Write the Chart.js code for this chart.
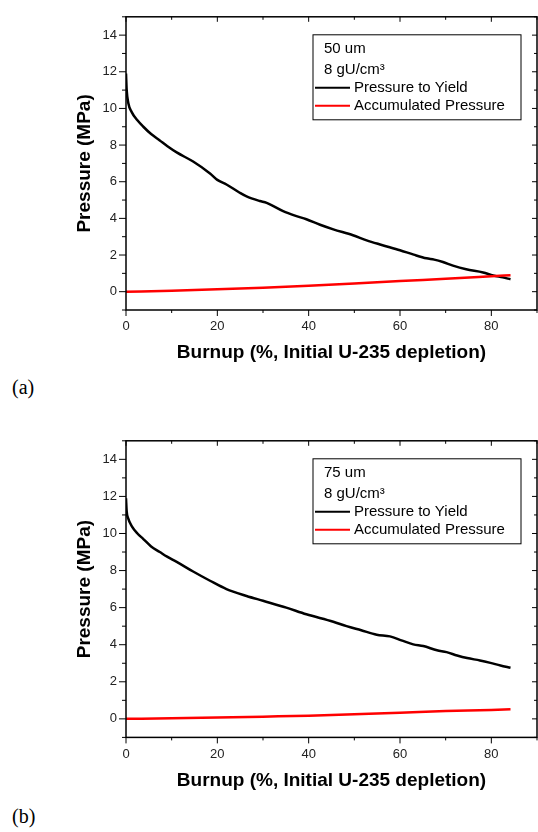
<!DOCTYPE html>
<html>
<head>
<meta charset="utf-8">
<script src="https://cdn.jsdelivr.net/npm/chart.js@4"></script>
<style>
    html, body { margin: 0; padding: 0; background: #fff; }
    body { width: 538px; height: 832px; position: relative; overflow: hidden; }
    .panel { position: absolute; left: 0; width: 538px; height: 370px; }
    .tag { position: absolute; left: 12px; font: 20px "Liberation Serif", "Times New Roman", serif; color: #000; line-height: 23px; }
</style>
</head>
<body>
<div class="panel" style="top:0"><canvas id="chart-a"></canvas></div>
<div class="tag" style="top:376px">(a)</div>
<div class="panel" style="top:424px"><canvas id="chart-b"></canvas></div>
<div class="tag" style="top:805px">(b)</div>

<script>
'use strict';

// ---- data ---------------------------------------------------------------
const X_TICKS = [0, 20, 40, 60, 80];
const Y_TICKS = [0, 2, 4, 6, 8, 10, 12, 14];
const X_LABEL = 'Burnup (%, Initial U-235 depletion)';
const Y_LABEL = 'Pressure (MPa)';
const SERIES_NAMES = ['Pressure to Yield', 'Accumulated Pressure'];

// (a) 50 um
const A_NOTE    = ['50 um', '8 gU/cm³'];
const A_YIELD_X = [0, 0.15, 0.5, 1.25, 2.5, 3.8, 5.5, 7.4, 9, 11.1, 14.7, 18.4, 20, 22, 24.9, 26.4, 29.3, 30.8, 34.4, 37, 39.5, 42.5, 45.4, 49.7, 52.7, 56, 60, 63, 65.8, 67.5, 69.4, 71.6, 74.5, 78.2, 80.4, 82.5, 84.2];
const A_YIELD_Y = [11.9, 11.0, 10.3, 9.8, 9.35, 9.0, 8.6, 8.25, 7.95, 7.6, 7.1, 6.45, 6.1, 5.85, 5.4, 5.2, 4.95, 4.85, 4.4, 4.15, 3.95, 3.65, 3.4, 3.08, 2.8, 2.55, 2.26, 2.02, 1.82, 1.75, 1.62, 1.42, 1.22, 1.05, 0.88, 0.78, 0.68];
const A_ACC_X   = [0, 10, 20, 30, 40, 50, 60, 70, 80, 84.2];
const A_ACC_Y   = [0, 0.05, 0.13, 0.22, 0.32, 0.44, 0.58, 0.7, 0.84, 0.9];

// (b) 75 um
const B_NOTE    = ['75 um', '8 gU/cm³'];
const B_YIELD_X = [0, 0.15, 0.5, 1.25, 2.5, 3.8, 5.5, 7.4, 9, 11.1, 14.7, 18.4, 22, 26.4, 30, 35.1, 39.5, 45.4, 48.3, 51.5, 54.9, 57.8, 60.5, 62.9, 65.1, 68.1, 70.2, 72.5, 74.7, 77.5, 79.8, 82, 84.2];
const B_YIELD_Y = [11.9, 11.2, 10.8, 10.4, 10.0, 9.7, 9.3, 9.0, 8.75, 8.47, 7.95, 7.45, 7.0, 6.63, 6.37, 6.0, 5.64, 5.24, 5.0, 4.78, 4.54, 4.45, 4.22, 4.02, 3.93, 3.7, 3.6, 3.42, 3.28, 3.15, 3.02, 2.88, 2.76];
const B_ACC_X   = [0, 10, 20, 30, 40, 50, 60, 70, 80, 84.2];
const B_ACC_Y   = [0, 0.03, 0.07, 0.12, 0.17, 0.25, 0.33, 0.42, 0.48, 0.52];

// ---- helpers ------------------------------------------------------------
const FONT = 'Arial, "Liberation Sans", sans-serif';
Chart.defaults.font.family = FONT;

const pts = (xs, ys) => xs.map((x, i) => ({ x, y: ys[i] }));

// box frame, inward/outward ticks and the boxed key
const frameAndKey = {
    id: 'frameAndKey',
    afterDraw(chart, args, opts) {
        const { ctx, chartArea: a, scales: { x, y } } = chart;
        const seg = (x1, y1, x2, y2) => { ctx.beginPath(); ctx.moveTo(x1, y1); ctx.lineTo(x2, y2); ctx.stroke(); };

        ctx.save();
        ctx.strokeStyle = '#000';
        ctx.lineWidth = 1;
        for (let v = x.min; v <= x.max; v += 10) {
            const px = x.getPixelForValue(v);
            const major = X_TICKS.includes(v);
            seg(px, a.bottom, px, a.bottom + (major ? 6 : 3));
            seg(px, a.top, px, a.top + (major ? 5 : 3));
        }
        for (let v = y.min; v <= y.max; v += 1) {
            const py = y.getPixelForValue(v);
            const major = Y_TICKS.includes(v);
            seg(a.left, py, a.left - (major ? 7 : 4), py);
            seg(a.right, py, a.right - (major ? 5 : 3), py);
        }
        ctx.lineWidth = 1.5;
        ctx.strokeRect(a.left, a.top, a.right - a.left, a.bottom - a.top);

        // key box
        const bx = a.left + 187, by = a.top + 18, bw = 208, bh = 85;
        ctx.fillStyle = '#fff';
        ctx.fillRect(bx, by, bw, bh);
        ctx.lineWidth = 1;
        ctx.strokeRect(bx, by, bw, bh);

        ctx.fillStyle = '#000';
        ctx.font = `15px ${FONT}`;
        ctx.textBaseline = 'middle';
        ctx.textAlign = 'left';
        ctx.fillText(opts.note[0], bx + 11, by + 14);
        ctx.fillText(opts.note[1], bx + 11, by + 35);

        const rows = [53, 71];
        chart.data.datasets.forEach(ds => {
            const ry = by + rows[ds.keyRow];
            ctx.strokeStyle = ds.borderColor;
            ctx.lineWidth = 2;
            seg(bx + 2, ry, bx + 37, ry);
            ctx.fillText(ds.label, bx + 41, ry);
        });
        ctx.restore();
    },
};

function buildChart(id, note, yieldX, yieldY, accX, accY, padBottom) {
    return new Chart(document.getElementById(id).getContext('2d'), {
        type: 'line',
        data: {
            datasets: [
                {
                    label: SERIES_NAMES[1],
                    data: pts(accX, accY),
                    borderColor: '#ff0000',
                    borderWidth: 2.5,
                    pointRadius: 0,
                    cubicInterpolationMode: 'monotone',
                    keyRow: 1,
                    order: 0,
                },
                {
                    label: SERIES_NAMES[0],
                    data: pts(yieldX, yieldY),
                    borderColor: '#000000',
                    borderWidth: 2.5,
                    pointRadius: 0,
                    cubicInterpolationMode: 'monotone',
                    keyRow: 0,
                    order: 1,
                },
            ],
        },
        options: {
            responsive: true,
            maintainAspectRatio: false,
            animation: false,
            layout: { padding: { left: 73.6, right: 1, top: 8, bottom: padBottom } },
            plugins: {
                legend: { display: false },
                tooltip: { enabled: false },
                frameAndKey: { note },
            },
            scales: {
                x: {
                    type: 'linear',
                    min: 0,
                    max: 90,
                    afterBuildTicks: s => { s.ticks = X_TICKS.map(v => ({ value: v })); },
                    afterFit: s => { s.height = 54.4; },
                    grid:   { display: false, drawTicks: false },
                    border: { display: false },
                    ticks:  { padding: 9, color: '#222', font: { size: 13 }, maxRotation: 0 },
                    title:  { display: true, text: X_LABEL, color: '#000', padding: 0,
                              font: { size: 19, weight: 'bold' } },
                },
                y: {
                    type: 'linear',
                    min: -1,
                    max: 15,
                    afterBuildTicks: s => { s.ticks = Y_TICKS.map(v => ({ value: v })); },
                    afterFit: s => { s.width = 52.4; },
                    grid:   { display: false, drawTicks: false },
                    border: { display: false },
                    ticks:  { padding: 9, color: '#222', font: { size: 13 } },
                    title:  { display: true, text: Y_LABEL, color: '#000', padding: 0,
                              font: { size: 19, weight: 'bold' } },
                },
            },
        },
        plugins: [frameAndKey],
    });
}

buildChart('chart-a', A_NOTE, A_YIELD_X, A_YIELD_Y, A_ACC_X, A_ACC_Y, 5.6);
buildChart('chart-b', B_NOTE, B_YIELD_X, B_YIELD_Y, B_ACC_X, B_ACC_Y, 2.2);
</script>
</body>
</html>
